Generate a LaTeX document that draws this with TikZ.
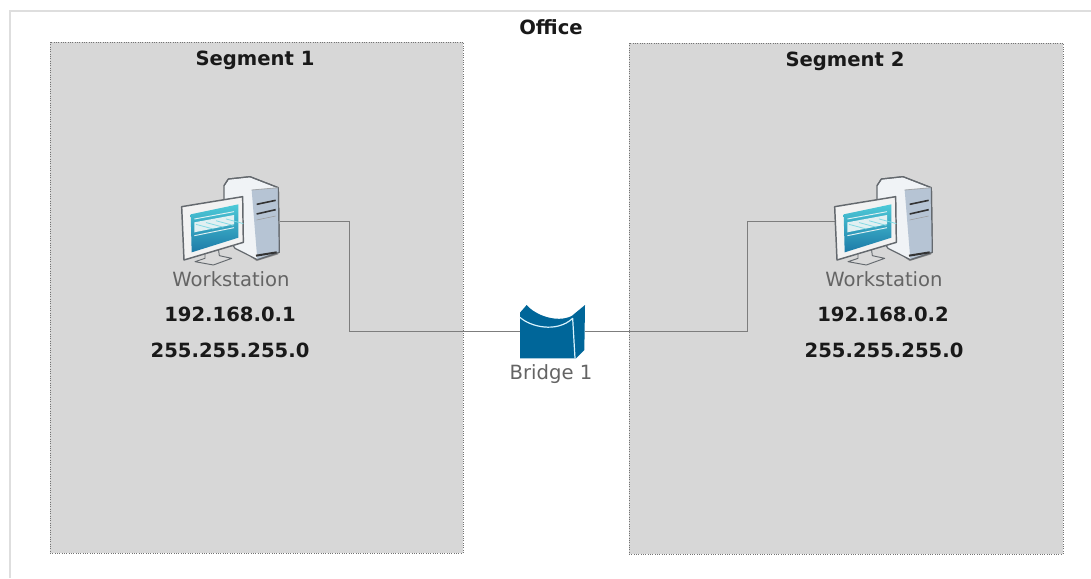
\documentclass[tikz,border=0pt]{standalone}
\usepackage{fontspec}
\setmainfont{DejaVu Sans}
\definecolor{seg}{RGB}{215,215,215}
\definecolor{bridgeblue}{RGB}{0,102,153}
\definecolor{wire}{RGB}{125,125,125}
\definecolor{lbl}{RGB}{100,100,100}
\definecolor{outline}{RGB}{100,105,110}
\definecolor{towerside}{RGB}{182,196,212}
\definecolor{towerfront}{RGB}{240,243,246}
\definecolor{screentop}{RGB}{78,202,216}
\definecolor{screenbot}{RGB}{28,122,168}
\definecolor{stripe}{RGB}{225,240,242}
\tikzset{
  segbox/.style={draw=black!55,densely dotted,fill=seg,line width=0.75pt,inner sep=0pt},
  outer/.style={draw=black!13,line width=1.5pt},
  title/.style={font=\bfseries\fontsize{14.7}{16}\selectfont,text=black!90,inner sep=0pt},
  addr/.style={font=\bfseries\fontsize{14.7}{16}\selectfont,text=black!90,inner sep=0pt},
  iconlabel/.style={font=\fontsize{14.7}{16}\selectfont,text=lbl,inner sep=0pt},
  anchorbox/.style={inner sep=0pt,minimum width=73.5pt,minimum height=66.75pt},
  bridgebox/.style={inner sep=0pt,minimum width=48.75pt,minimum height=39.75pt},
  wireline/.style={draw=wire,line width=0.75pt},
}
\newcommand{\pcicon}[1]{%
\begin{scope}[shift={(#1,165)},x=0.25pt,y=-0.25pt,line join=round]
  % tower
  \fill[black!45] (215,235) -- (290,288) -- (355,268) -- (250,225) -- cycle;
  \draw[outline,line width=0.9pt,fill=towerfront] (192,62) -- (205,42) -- (270,35) -- (355,68) -- (358,262) -- (292,284) -- (225,250) -- (192,200) -- cycle;
  \fill[towerside] (275,75) -- (355,68) -- (358,262) -- (292,284) -- cycle;
  \draw[outline,line width=0.9pt] (192,62) -- (205,42) -- (270,35) -- (355,68) -- (358,262) -- (292,284);
  \draw[outline!60,line width=0.6pt] (275,75) -- (355,68);
  \draw[black!80,line width=1.2pt] (290,118) -- (347,106);
  \draw[black!80,line width=1.2pt] (290,147) -- (347,134);
  \draw[black!40,line width=0.4pt] (290,165) -- (347,153);
  \draw[black!80,line width=1.5pt] (288,272) -- (350,262);
  % stand
  \fill[black!15,draw=outline,line width=0.7pt] (105,290) -- (135,280) -- (135,262) -- (175,250) -- (178,272) -- (215,280) -- (160,300) -- cycle;
  % monitor
  \draw[outline,line width=1.1pt,fill=black!5] (65,125) -- (248,95) -- (250,232) -- (72,285) -- cycle;
  \shade[top color=screentop,bottom color=screenbot] (92,148) -- (235,118) -- (235,218) -- (95,262) -- cycle;
  \draw[stripe,line width=0.7pt] (103,162) -- (222,140);
  \draw[stripe,line width=0.7pt] (103,212) -- (222,188);
  \fill[stripe] (103,172) -- (222,150) -- (222,178) -- (103,202) -- cycle;
  \foreach \k in {0,30,...,90}
    \draw[screentop!70!white,line width=0.6pt] (108+\k,178-\k*0.18) -- (160+\k,192-\k*0.18);
\end{scope}}
\begin{document}
\begin{tikzpicture}[x=0.75pt,y=-0.75pt]
\useasboundingbox (0,0) rectangle (1091,578);
\fill[white] (0,0) rectangle (1091,578);
\coordinate (oa) at (10,578);
\coordinate (ob) at (10,11);
\coordinate (oc) at (1091,11);
\draw[outer] (oa) -- (ob) -- (oc);
\node[title] (office) at (551,27) {Office};
\node[segbox,minimum width=309.75pt,minimum height=383.25pt] (seg1) at (256.5,297.5) {};
\node[segbox,minimum width=325.5pt,minimum height=383.25pt] (seg2) at (846,298.5) {};
\node[title] (seg1t) at (255,60) {Segment 1};
\node[title] (seg2t) at (845,61) {Segment 2};
\node[anchorbox] (ws1) at (231,221) {};
\node[anchorbox] (ws2) at (884,221) {};
\node[bridgebox] (br) at (552.5,331.5) {};
\draw[wireline] (ws1.east) -- (349,221) -- (349,331.5) -- (br.west);
\draw[wireline] (br.east) -- (747,331.5) -- (747,221) -- (ws2.west);
\pcicon{160}
\pcicon{813}
\begin{scope}[shift={(490,290)},x=0.25pt,y=-0.25pt,line join=round]
  \fill[bridgeblue] (90,68) -- (110,45) .. controls (135,75) and (200,100) .. (245,78) -- (285,45) -- (283,180) -- (258,205) -- (90,205) -- cycle;
  \draw[white!85!cyan,line width=0.9pt] (90,82) .. controls (120,110) and (200,130) .. (248,85) -- (255,205);
\end{scope}
\node[iconlabel] (ws1l) at (231,279.5) {Workstation};
\node[addr] (ip1) at (230,314) {192.168.0.1};
\node[addr] (m1) at (230,350) {255.255.255.0};
\node[iconlabel] (ws2l) at (884,279.5) {Workstation};
\node[addr] (ip2) at (883,314) {192.168.0.2};
\node[addr] (m2) at (884,350) {255.255.255.0};
\node[iconlabel] (brl) at (551,374) {Bridge 1};
\end{tikzpicture}
\end{document}
